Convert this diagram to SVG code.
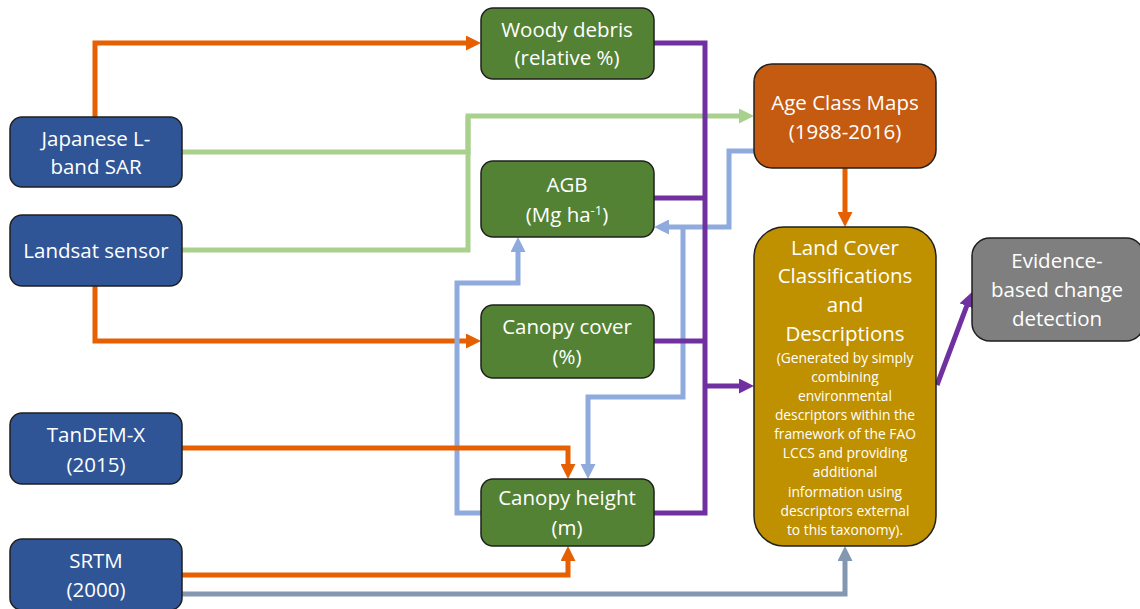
<svg xmlns="http://www.w3.org/2000/svg" width="1140" height="609" viewBox="0 0 1140 609">
<style>
.node{stroke:#1f1f1f;stroke-width:1.5}
.t{font-family:"Open Sans","Liberation Sans",sans-serif;font-size:20.5px;fill:#fff;text-anchor:middle}
.s{font-family:"Open Sans","Liberation Sans",sans-serif;font-size:13.8px;fill:#fff;text-anchor:middle}
.c{fill:none;stroke-width:5}
.or{stroke:#E65F00}
.gr{stroke:#A9D18E}
.lb{stroke:#8FAADC}
.gb{stroke:#8497B0}
.pu{stroke:#7030A0}
</style>
<defs>
<marker id="aOr" markerUnits="userSpaceOnUse" viewBox="0 0 15 15" refX="3" refY="7.5" markerWidth="15" markerHeight="15" orient="auto"><path d="M0,0 L15,7.5 L0,15 z" fill="#E65F00"/></marker>
<marker id="aGr" markerUnits="userSpaceOnUse" viewBox="0 0 15 15" refX="3" refY="7.5" markerWidth="15" markerHeight="15" orient="auto"><path d="M0,0 L15,7.5 L0,15 z" fill="#A9D18E"/></marker>
<marker id="aLb" markerUnits="userSpaceOnUse" viewBox="0 0 15 15" refX="3" refY="7.5" markerWidth="15" markerHeight="15" orient="auto"><path d="M0,0 L15,7.5 L0,15 z" fill="#8FAADC"/></marker>
<marker id="aGb" markerUnits="userSpaceOnUse" viewBox="0 0 15 15" refX="3" refY="7.5" markerWidth="15" markerHeight="15" orient="auto"><path d="M0,0 L15,7.5 L0,15 z" fill="#8497B0"/></marker>
<marker id="aPu" markerUnits="userSpaceOnUse" viewBox="0 0 15 15" refX="3" refY="7.5" markerWidth="15" markerHeight="15" orient="auto"><path d="M0,0 L15,7.5 L0,15 z" fill="#7030A0"/></marker>
</defs>
<rect width="1140" height="609" fill="#fff"/>
<g id="connectors">
<path class="c gr" d="M182,152 H468 V116 H742" marker-end="url(#aGr)"/>
<path class="c gr" d="M182,250 H468 V116"/>
<path class="c or" d="M95,117 V43 H469" marker-end="url(#aOr)"/>
<path class="c or" d="M95,286 V341 H469" marker-end="url(#aOr)"/>
<path class="c lb" d="M481,513 H457 V283 H518 V249" marker-end="url(#aLb)"/>
<path class="c lb" d="M754,151 H729 V227 H666" marker-end="url(#aLb)"/>
<path class="c lb" d="M683,227 V397 H588 V467" marker-end="url(#aLb)"/>
<path class="c pu" d="M654,43 H705 V513 H654"/>
<path class="c pu" d="M654,198 H705"/>
<path class="c pu" d="M654,341 H705"/>
<path class="c pu" d="M705,386 H742" marker-end="url(#aPu)"/>
<path class="c or" d="M182,448 H568 V467" marker-end="url(#aOr)"/>
<path class="c or" d="M182,575 H568 V558" marker-end="url(#aOr)"/>
<path class="c gb" d="M182,594 H845 V558" marker-end="url(#aGb)"/>
<path class="c or" d="M845,168 V215" marker-end="url(#aOr)"/>
<path class="c pu" d="M937,385 L967.8,303.2" marker-end="url(#aPu)"/>
</g>
<g id="n-japanese"><rect class="node" x="10" y="117" width="172" height="70" rx="12" fill="#2F5597"/><text class="t" x="96" y="146">Japanese L-</text><text class="t" x="96" y="174">band SAR</text></g>
<g id="n-landsat"><rect class="node" x="10" y="215" width="172" height="71" rx="12" fill="#2F5597"/><text class="t" x="96" y="258">Landsat sensor</text></g>
<g id="n-tandem"><rect class="node" x="10" y="413" width="172" height="71" rx="12" fill="#2F5597"/><text class="t" x="96" y="442">TanDEM-X</text><text class="t" x="96" y="472">(2015)</text></g>
<g id="n-srtm"><rect class="node" x="10" y="539" width="172" height="71" rx="12" fill="#2F5597"/><text class="t" x="96" y="568">SRTM</text><text class="t" x="96" y="597">(2000)</text></g>
<g id="n-woody"><rect class="node" x="481" y="8" width="173" height="71" rx="12" fill="#548235"/><text class="t" x="567" y="37">Woody debris</text><text class="t" x="567" y="65">(relative %)</text></g>
<g id="n-agb"><rect class="node" x="481" y="161" width="173" height="76" rx="12" fill="#548235"/><text class="t" x="567" y="192">AGB</text><text class="t" x="567" y="222">(Mg ha<tspan font-size="13" dy="-7">-1</tspan><tspan dy="7">)</tspan></text></g>
<g id="n-cover"><rect class="node" x="481" y="305" width="173" height="73" rx="12" fill="#548235"/><text class="t" x="567" y="334">Canopy cover</text><text class="t" x="567" y="364">(%)</text></g>
<g id="n-height"><rect class="node" x="481" y="479" width="173" height="67" rx="12" fill="#548235"/><text class="t" x="567" y="505">Canopy height</text><text class="t" x="567" y="535">(m)</text></g>
<g id="n-age"><rect class="node" x="754" y="64" width="182" height="104" rx="18" fill="#C55A11"/><text class="t" x="845" y="110">Age Class Maps</text><text class="t" x="845" y="139">(1988-2016)</text></g>
<g id="n-landcover"><rect class="node" x="754" y="227" width="182" height="319" rx="30" fill="#BF9000"/>
<text class="t" x="845" y="255">Land Cover</text><text class="t" x="845" y="283">Classifications</text><text class="t" x="845" y="312">and</text><text class="t" x="845" y="341">Descriptions</text>
<text class="s" x="845" y="363">(Generated by simply</text><text class="s" x="845" y="382">combining</text><text class="s" x="845" y="401">environmental</text><text class="s" x="845" y="420">descriptors within the</text><text class="s" x="845" y="439">framework of the FAO</text><text class="s" x="845" y="458">LCCS and providing</text><text class="s" x="845" y="477">additional</text><text class="s" x="845" y="497">information using</text><text class="s" x="845" y="516">descriptors external</text><text class="s" x="845" y="535">to this taxonomy).</text></g>
<g id="n-evidence"><rect class="node" x="972" y="238" width="172" height="103" rx="18" fill="#7F7F7F"/><text class="t" x="1057" y="268">Evidence-</text><text class="t" x="1057" y="297">based change</text><text class="t" x="1057" y="326">detection</text></g>
</svg>
